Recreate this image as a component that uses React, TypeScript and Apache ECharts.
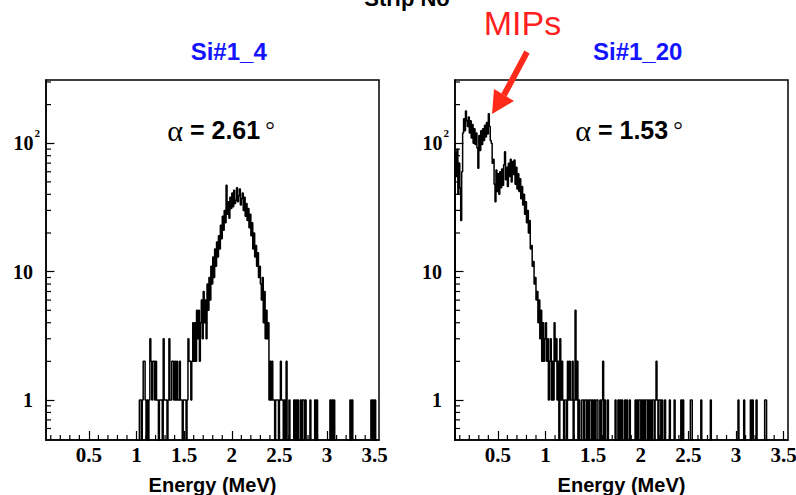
import React, { useEffect, useRef } from "react";
import * as echarts from "echarts";

// ---------- data ----------
const binWidth = 0.01;

// Si#1_4 : counts per 0.01 MeV bin starting at 1.00 MeV
const si4Start = 1.0;
const si4Counts = [
  0, 0, 0, 1, 1, 0, 1, 2, 2, 1,
  0, 1, 0, 1, 3, 2, 1, 2, 2, 1,
  2, 1, 1, 0, 1, 1, 1, 0, 3, 1,
  1, 1, 0, 1, 3, 1, 1, 2, 2, 1,
  2, 1, 2, 1, 1, 2, 1, 1, 0, 1,
  1, 1, 0, 1, 3, 2, 2, 1, 2, 4,
  2, 4, 2, 5, 3, 5, 2, 4, 6, 3,
  7, 4, 6, 3, 8, 5, 9, 6, 11, 8,
  13, 9, 15, 11, 17, 13, 19, 15, 23, 18,
  27, 21, 30, 24, 47, 28, 35, 26, 38, 31,
  41, 32, 43, 34, 36, 45, 35, 39, 44, 33,
  37, 41, 30, 38, 27, 34, 25, 31, 22, 28,
  19, 24, 15, 20, 13, 16, 11, 14, 9, 11,
  8, 6, 9, 4, 7, 3, 5, 3, 4, 1,
  2, 1, 2, 1, 1, 0, 1, 1, 1, 0,
  1, 2, 1, 1, 0, 1, 0, 2, 0, 0,
  1, 0, 0, 0, 0, 1, 0, 1, 0, 1,
  0, 0, 1, 0, 1, 1, 0, 1, 0, 0,
  0, 0, 1, 0, 0, 0, 0, 1, 0, 1,
  0, 0, 0, 0, 0, 0, 0, 0, 0, 0,
  0, 0, 0, 1, 0, 1, 0, 1, 0, 0,
  0, 0, 0, 0, 0, 0, 0, 0, 0, 0,
  0, 0, 0, 0, 1, 0, 1, 0, 0, 0,
  0, 0, 0, 0, 0, 0, 0, 0, 0, 0,
  0, 0, 0, 0, 0, 0, 1, 0, 1, 0,
  1,
];

// Si#1_20 : counts per 0.01 MeV bin starting at 0.05 MeV
const si20Start = 0.05;
const si20Counts = [
  85, 55, 90, 40, 70,
  45, 25, 60, 120, 155, 125, 178, 150, 135, 160,
  120, 150, 110, 140, 100, 130, 98, 120, 92, 64,
  115, 88, 125, 98, 130, 105, 138, 112, 145, 118,
  170, 135, 105, 100, 70, 75, 48, 35, 62, 42,
  58, 40, 60, 45, 63, 47, 68, 86, 52, 65,
  46, 70, 55, 75, 50, 72, 57, 74, 48, 65,
  44, 58, 42, 53, 37, 46, 33, 40, 28, 35,
  24, 30, 20, 25, 15, 16, 11, 12, 8, 9,
  6, 7, 4, 6, 3, 5, 2, 4, 2, 3,
  4, 2, 3, 1, 2, 3, 1, 2, 1, 4,
  2, 3, 1, 2, 0, 3, 1, 2, 1, 0,
  1, 1, 0, 2, 1, 2, 1, 1, 2, 0,
  1, 5, 1, 2, 0, 1, 0, 0, 1, 1,
  0, 1, 1, 0, 1, 0, 1, 1, 0, 1,
  0, 1, 0, 1, 1, 0, 0, 1, 0, 1,
  2, 0, 1, 0, 0, 1, 0, 0, 0, 0,
  0, 0, 0, 1, 0, 0, 1, 0, 1, 0,
  1, 0, 0, 1, 0, 1, 0, 0, 1, 0,
  0, 0, 0, 0, 1, 0, 1, 0, 1, 1,
  0, 1, 0, 1, 0, 1, 1, 0, 1, 0,
  1, 0, 1, 1, 0, 1, 2, 1, 0, 1,
  1, 0, 1, 0, 0, 1, 0, 0, 0, 0,
  1, 0, 0, 0, 0, 1, 0, 0, 0, 0,
  0, 0, 1, 0, 1, 0, 0, 0, 0, 0,
  0, 0, 1, 1, 0, 0, 0, 0, 0, 0,
  0, 0, 0, 1, 0, 0, 0, 0, 0, 0,
  0, 0, 0, 1, 0, 0, 0, 0, 0, 0,
  0, 0, 0, 0, 0, 0, 0, 0, 0, 0,
  0, 0, 0, 0, 0, 0, 0, 0, 0, 0,
  0, 0, 1, 0, 0, 0, 0, 0, 1, 0,
  0, 0, 0, 0, 0, 1, 0, 1, 0, 0,
  0, 1, 0, 0, 0, 0, 0, 0, 0, 0,
  1, 1,
];

const panelTitles = ["Si#1_4", "Si#1_20"];
const angleValues = ["2.61", "1.53"];
const xRange = [0.05, 3.545];
const yRange = [0.488, 311];
const xMajorTicks = [0.5, 1, 1.5, 2, 2.5, 3, 3.5];
const xMinorTicks = [
  0.1, 0.2, 0.3, 0.4, 0.6, 0.7, 0.8, 0.9, 1.1, 1.2, 1.3, 1.4, 1.6, 1.7, 1.8, 1.9,
  2.1, 2.2, 2.3, 2.4, 2.6, 2.7, 2.8, 2.9, 3.1, 3.2, 3.3, 3.4,
];
const yMinorTicks = [0.6, 0.7, 0.8, 0.9, 2, 3, 4, 5, 6, 7, 8, 9, 20, 30, 40, 50, 60, 70, 80, 90, 200, 300];
const stripTitle = "Strip No";
const xAxisTitle = "Energy (MeV)";
const annotationText = "MIPs";

// ---------- helpers ----------
const FLOOR = 0.3; // empty bins drawn below the frame (clipped), as ROOT does on log scale
const GRID_LEFT = [46, 455];
const GRID_TOP = 80;
const GRID_W = 333;
const GRID_H = 360;

function stepPoints(start: number, counts: number[]) {
  const pts: number[][] = [[start, FLOOR]];
  counts.forEach((c, i) => {
    pts.push([+(start + i * binWidth).toFixed(3), c > 0 ? c : FLOOR]);
  });
  pts.push([+(start + counts.length * binWidth).toFixed(3), FLOOR]);
  return pts;
}

const SANS = '"Liberation Sans", Arial, Helvetica, sans-serif';
const SERIF = '"Liberation Serif", "Times New Roman", serif';

export default function App() {
  const ref = useRef<HTMLDivElement>(null);

  useEffect(() => {
    if (!ref.current) return;
    const chart = echarts.init(ref.current, null, { renderer: "svg" });

    const grids = GRID_LEFT.map((left) => ({
      left,
      top: GRID_TOP,
      width: GRID_W,
      height: GRID_H,
      show: true,
      borderColor: "#000",
      borderWidth: 1.5,
      backgroundColor: "transparent",
      containLabel: false,
      outerBoundsMode: "none",
    }));

    const xAxes = GRID_LEFT.map((_, i) => ({
      type: "value",
      gridIndex: i,
      min: xRange[0],
      max: xRange[1],
      axisLine: { show: true, lineStyle: { color: "#000", width: 1.5 } },
      axisTick: {
        show: true,
        inside: true,
        length: 9,
        customValues: xMajorTicks,
        lineStyle: { color: "#000", width: 1.2 },
      },
      axisLabel: {
        show: true,
        customValues: xMajorTicks,
        formatter: (v: number) => String(v),
        fontFamily: SERIF,
        fontWeight: "bold",
        fontSize: 21,
        color: "#000",
        margin: 15,
        verticalAlign: "middle",
      },
      splitLine: { show: false },
    }));

    const yAxes = GRID_LEFT.map((_, i) => ({
      type: "log",
      logBase: 10,
      gridIndex: i,
      min: yRange[0],
      max: yRange[1],
      axisLine: { show: true, lineStyle: { color: "#000", width: 1.5 } },
      axisTick: { show: true, inside: true, length: 8.5, lineStyle: { color: "#000", width: 1.2 } },
      axisLabel: {
        show: true,
        showMinLabel: false,
        showMaxLabel: false,
        margin: 6,
        color: "#000",
        formatter: (v: number) => {
          if (Math.abs(v - 1) < 1e-6) return "{b|1}";
          if (Math.abs(v - 10) < 1e-6) return "{b|10}";
          if (Math.abs(v - 100) < 1e-6) return "{n|10}{s|2}";
          return "";
        },
        rich: {
          b: { fontFamily: SERIF, fontWeight: "bold", fontSize: 20, lineHeight: 20, padding: [0, 7, 0, 0], color: "#000" },
          n: { fontFamily: SERIF, fontWeight: "bold", fontSize: 20, lineHeight: 20, color: "#000" },
          s: { fontFamily: SERIF, fontWeight: "bold", fontSize: 11, verticalAlign: "top", padding: [0, 0, 20, 1], color: "#000" },
        },
      },
      splitLine: { show: false },
      minorTick: { show: false },
    }));

    const histograms = [
      stepPoints(si4Start, si4Counts),
      stepPoints(si20Start, si20Counts),
    ];

    const series: any[] = [];
    histograms.forEach((pts, i) => {
      series.push({
        type: "line",
        xAxisIndex: i,
        yAxisIndex: i,
        data: pts,
        step: "end",
        symbol: "none",
        silent: true,
        clip: true,
        lineStyle: { color: "#000", width: 1.5 },
      });
      series.push({
        type: "custom",
        xAxisIndex: i,
        yAxisIndex: i,
        silent: true,
        data: xMinorTicks.map((v) => [v, yRange[0]]),
        renderItem: (_p: any, api: any) => {
          const pt = api.coord([api.value(0), api.value(1)]);
          return {
            type: "line",
            shape: { x1: pt[0], y1: pt[1], x2: pt[0], y2: pt[1] - 5 },
            style: { stroke: "#000", lineWidth: 1.2 },
          };
        },
      });
      series.push({
        type: "custom",
        xAxisIndex: i,
        yAxisIndex: i,
        silent: true,
        data: yMinorTicks.map((v) => [xRange[0], v]),
        renderItem: (_p: any, api: any) => {
          const pt = api.coord([api.value(0), api.value(1)]);
          return {
            type: "line",
            shape: { x1: pt[0], y1: pt[1], x2: pt[0] + 5, y2: pt[1] },
            style: { stroke: "#000", lineWidth: 1.2 },
          };
        },
      });
    });

    const titleCenters = [228.7, 637.7];
    const angleCenters = [221, 629];
    const energyCenters = [212.5, 621.5];

    const graphic: any[] = [
      {
        type: "text",
        x: 407,
        y: -2,
        style: {
          text: stripTitle,
          font: `bold 22px ${SANS}`,
          fill: "#000",
          align: "center",
          verticalAlign: "middle",
          textAlign: "center",
          textVerticalAlign: "middle",
        },
      },
      {
        type: "text",
        x: 522.5,
        y: 23,
        style: {
          text: annotationText,
          font: `34px ${SANS}`,
          fill: "#ff1f1f",
          align: "center",
          verticalAlign: "middle",
          textAlign: "center",
          textVerticalAlign: "middle",
        },
      },
      {
        type: "line",
        shape: { x1: 527, y1: 52, x2: 504, y2: 95 },
        style: { stroke: "#ff2a1a", lineWidth: 6 },
      },
      {
        type: "polygon",
        shape: { points: [[492, 114], [494, 89], [514, 101]] },
        style: { fill: "#ff2a1a" },
      },
    ];

    panelTitles.forEach((t, i) => {
      graphic.push({
        type: "text",
        x: titleCenters[i],
        y: 51,
        style: {
          text: t,
          font: `bold 24px ${SANS}`,
          fill: "#1414ff",
          align: "center",
          verticalAlign: "middle",
          textAlign: "center",
          textVerticalAlign: "middle",
        },
      });
      graphic.push({
        type: "text",
        x: angleCenters[i],
        y: 130,
        style: {
          text: `{a|α}{b| = ${angleValues[i]}}{c|°}`,
          align: "center",
          verticalAlign: "middle",
          textAlign: "center",
          textVerticalAlign: "middle",
          rich: {
            a: { fontFamily: SERIF, fontSize: 30, fill: "#000", color: "#000" },
            b: { fontFamily: SANS, fontWeight: "bold", fontSize: 25, fill: "#000", color: "#000" },
            c: { fontFamily: SERIF, fontSize: 24, fill: "#000", color: "#000", padding: [0, 0, 0, 5] },
          },
        },
      });
      graphic.push({
        type: "text",
        x: energyCenters[i],
        y: 485,
        style: {
          text: xAxisTitle,
          font: `bold 20px ${SANS}`,
          fill: "#000",
          align: "center",
          verticalAlign: "middle",
          textAlign: "center",
          textVerticalAlign: "middle",
        },
      });
    });

    chart.setOption({
      animation: false,
      backgroundColor: "#fff",
      grid: grids,
      xAxis: xAxes,
      yAxis: yAxes,
      series,
      graphic,
    } as any);

    return () => chart.dispose();
  }, []);

  return (
    <div
      ref={ref}
      style={{ position: "fixed", left: 0, top: 0, width: 796, height: 495, background: "#fff" }}
    />
  );
}
